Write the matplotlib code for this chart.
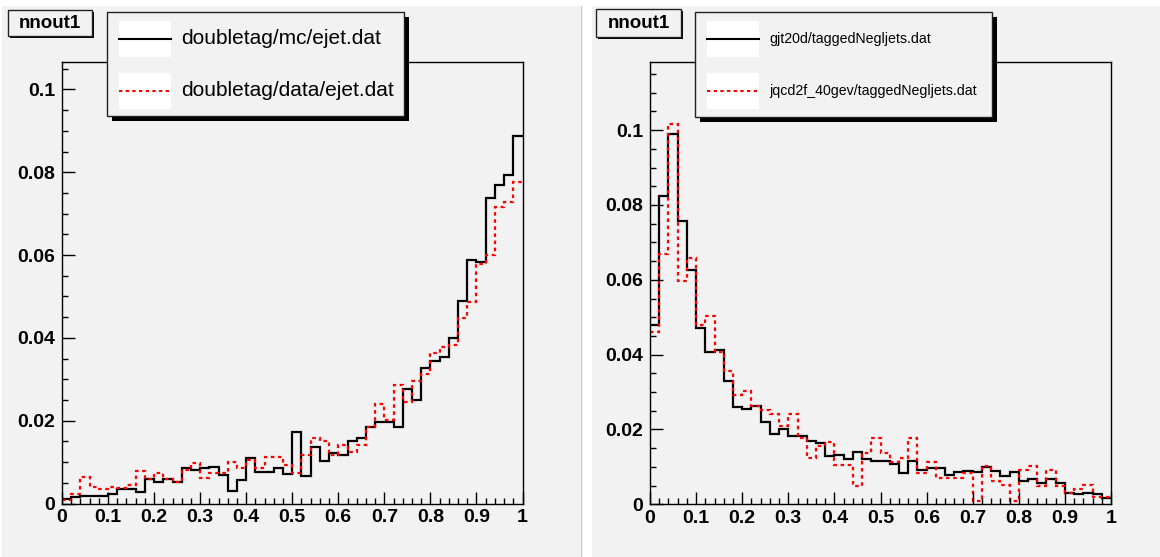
import matplotlib
matplotlib.use("Agg")
import matplotlib.pyplot as plt
import numpy as np
from matplotlib.patches import Rectangle
from matplotlib.lines import Line2D
from matplotlib.ticker import MultipleLocator, FuncFormatter

W, H = 1160, 557
PAD = "#f2f2f2"

# 50 bins from 0 to 1
edges = np.linspace(0, 1, 51)

mc_ejet = [0.0010, 0.0015, 0.0019, 0.0019, 0.0019, 0.0023, 0.0035, 0.0035, 0.0027, 0.0060,
           0.0052, 0.0060, 0.0052, 0.0085, 0.0080, 0.0085, 0.0089, 0.0068, 0.0031, 0.0056,
           0.0110, 0.0077, 0.0077, 0.0085, 0.0072, 0.0172, 0.0066, 0.0136, 0.0103, 0.0123,
           0.0116, 0.0152, 0.0157, 0.0185, 0.0196, 0.0196, 0.0185, 0.0277, 0.0249, 0.0327,
           0.0343, 0.0355, 0.0400, 0.0490, 0.0588, 0.0583, 0.0739, 0.0770, 0.0794, 0.0888]
data_ejet = [0.0008, 0.0022, 0.0064, 0.0040, 0.0034, 0.0040, 0.0038, 0.0044, 0.0078, 0.0060,
             0.0073, 0.0058, 0.0052, 0.0080, 0.0097, 0.0062, 0.0074, 0.0074, 0.0100, 0.0086,
             0.0106, 0.0086, 0.0112, 0.0112, 0.0092, 0.0074, 0.0116, 0.0157, 0.0152, 0.0116,
             0.0141, 0.0125, 0.0141, 0.0185, 0.0241, 0.0202, 0.0285, 0.0246, 0.0296, 0.0313,
             0.0364, 0.0379, 0.0384, 0.0449, 0.0487, 0.0578, 0.0601, 0.0715, 0.0727, 0.0776]

gjt20d = [0.0480, 0.0824, 0.0990, 0.0757, 0.0625, 0.0472, 0.0407, 0.0412, 0.0329, 0.0259,
          0.0255, 0.0262, 0.0221, 0.0188, 0.0201, 0.0183, 0.0183, 0.0170, 0.0163, 0.0128,
          0.0131, 0.0121, 0.0141, 0.0120, 0.0116, 0.0116, 0.0108, 0.0083, 0.0117, 0.0092,
          0.0098, 0.0096, 0.0078, 0.0087, 0.0090, 0.0087, 0.0101, 0.0090, 0.0076, 0.0085,
          0.0061, 0.0067, 0.0058, 0.0067, 0.0058, 0.0029, 0.0027, 0.0029, 0.0028, 0.0016]
jqcd2f = [0.0460, 0.0670, 0.1016, 0.0597, 0.0659, 0.0480, 0.0503, 0.0407, 0.0355, 0.0293,
          0.0304, 0.0262, 0.0251, 0.0241, 0.0210, 0.0241, 0.0177, 0.0125, 0.0156, 0.0166,
          0.0104, 0.0104, 0.0050, 0.0137, 0.0176, 0.0136, 0.0112, 0.0125, 0.0176, 0.0083,
          0.0114, 0.0071, 0.0071, 0.0071, 0.0083, 0.0010, 0.0103, 0.0062, 0.0052, 0.0010,
          0.0092, 0.0103, 0.0050, 0.0092, 0.0050, 0.0031, 0.0040, 0.0052, 0.0020, 0.0019]

left_labels = ["doubletag/mc/ejet.dat", "doubletag/data/ejet.dat"]
right_labels = ["gjt20d/taggedNegljets.dat", "jqcd2f_40gev/taggedNegljets.dat"]
title = "nnout1"

plt.rcParams["font.family"] = ["Liberation Sans", "DejaVu Sans"]


def fx(px):
    return px / W


def fy(py):
    return 1 - py / H


def rect(fig, x0, y0, x1, y1, **kw):
    r = Rectangle((fx(x0), fy(y1)), (x1 - x0) / W, (y1 - y0) / H,
                  transform=fig.transFigure, **kw)
    fig.add_artist(r)


def shadow_box(fig, x0, y0, x1, y1, sh):
    rect(fig, x0 + sh, y0 + sh, x1 + sh, y1 + sh, fc="black", ec="none", zorder=5)
    rect(fig, x0, y0, x1, y1, fc=PAD, ec="#222222", lw=1.0, zorder=6)


def legend(fig, x0, y0, x1, y1, labels, fs):
    shadow_box(fig, x0, y0, x1, y1, 5)
    styles = [dict(color="black", ls="-"), dict(color="red", ls=(0, (1.6, 1.6)))]
    yc = [y0 + 27, y0 + 79]
    for lab, st, y in zip(labels, styles, yc):
        rect(fig, x0 + 12, y - 18, x0 + 64, y + 18, fc="white", ec="none", zorder=7)
        fig.add_artist(Line2D([fx(x0 + 12), fx(x0 + 64)], [fy(y), fy(y)],
                              transform=fig.transFigure, lw=1.5, zorder=8, **st))
        fig.text(fx(x0 + 74), fy(y), lab, fontsize=fs, va="center", ha="left", zorder=8)


def title_box(fig, x0, y0, x1, y1):
    shadow_box(fig, x0, y0, x1, y1, 2)
    fig.text(fx((x0 + x1) / 2), fy((y0 + y1) / 2), title, fontsize=13.5,
             fontweight="bold", ha="center", va="center", zorder=8)


def style_axes(ax, ytop):
    ax.set_facecolor(PAD)
    ax.set_xlim(0, 1)
    ax.set_ylim(0, ytop)
    for s in ax.spines.values():
        s.set_linewidth(1.0)
        s.set_zorder(4)
    ax.xaxis.set_major_locator(MultipleLocator(0.1))
    ax.xaxis.set_minor_locator(MultipleLocator(0.02))
    ax.yaxis.set_major_locator(MultipleLocator(0.02))
    ax.yaxis.set_minor_locator(MultipleLocator(0.005))
    fmt = FuncFormatter(lambda v, p: "%g" % round(v, 4))
    ax.xaxis.set_major_formatter(fmt)
    ax.yaxis.set_major_formatter(fmt)
    ax.tick_params(which="both", direction="in", top=False, right=False, width=1)
    ax.tick_params(which="major", length=9, labelsize=14)
    ax.tick_params(which="minor", length=4.5)
    ax.tick_params(axis="x", pad=4)
    ax.tick_params(axis="y", pad=5)
    for lab in ax.get_xticklabels() + ax.get_yticklabels():
        lab.set_fontweight("bold")


fig = plt.figure(figsize=(W / 100, H / 100), dpi=100, facecolor="white")

# pad backgrounds
rect(fig, 2, 6, 580, H, fc=PAD, ec="none", zorder=-2)
rect(fig, 592, 6, W, H, fc=PAD, ec="none", zorder=-2)
fig.add_artist(Line2D([fx(581), fx(581)], [0, fy(6)], transform=fig.transFigure,
                      color="#c8c8c8", lw=1, zorder=-1))

ax1 = fig.add_axes([fx(62), fy(503.5), 460.5 / W, (503.5 - 61.7) / H])
ax1.stairs(mc_ejet, edges, baseline=None, color="black", lw=1.6)
ax1.stairs(data_ejet, edges, baseline=None, color="red", lw=1.6, ls=(0, (1.6, 1.6)))
style_axes(ax1, 0.1067)

ax2 = fig.add_axes([fx(650), fy(504.3), 461 / W, (504.3 - 61.7) / H])
ax2.stairs(gjt20d, edges, baseline=None, color="black", lw=1.6)
ax2.stairs(jqcd2f, edges, baseline=None, color="red", lw=1.6, ls=(0, (1.6, 1.6)))
style_axes(ax2, 0.1183)

title_box(fig, 8, 10, 92, 36)
title_box(fig, 596, 9, 681, 37)
legend(fig, 107, 12, 404, 116, left_labels, 15)
legend(fig, 695, 12, 992, 117, right_labels, 10.2)

fig.savefig("out.png", dpi=100, facecolor="white")
